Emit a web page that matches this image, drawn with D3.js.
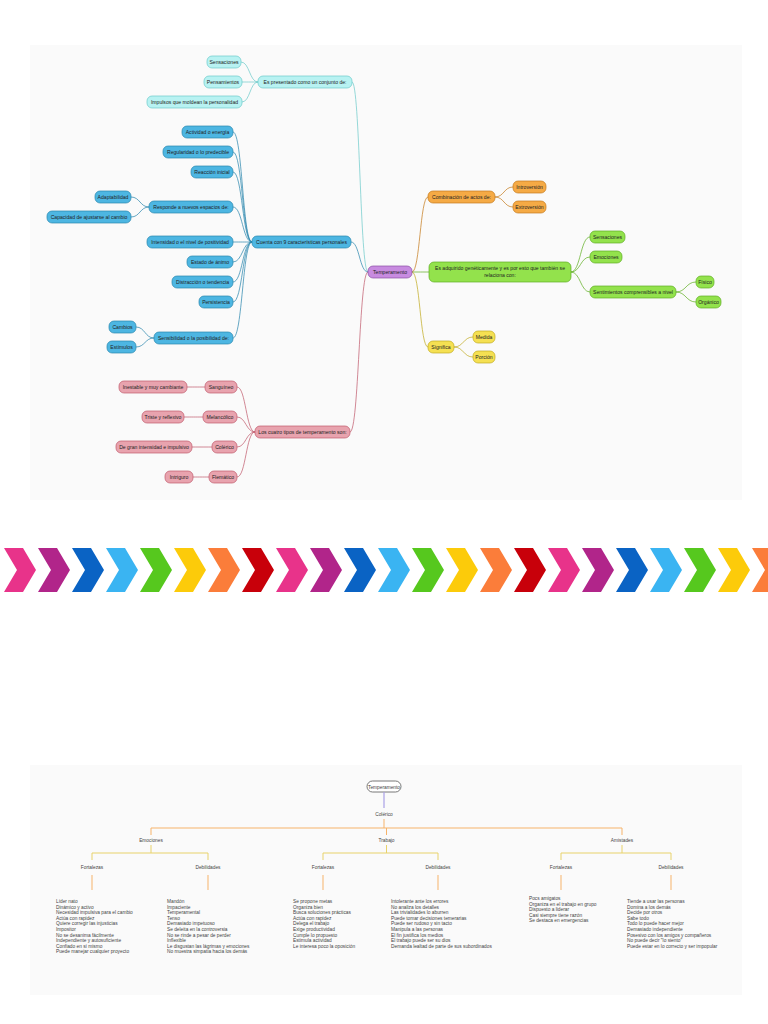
<!DOCTYPE html>
<html>
<head>
<meta charset="utf-8">
<script src="https://cdn.jsdelivr.net/npm/d3@7"></script>
<style>
  body { margin: 0; background: #fff; }
  svg { display: block; font-family: "Liberation Sans", Arial, sans-serif; }
</style>
</head>
<body>
<svg id="chart" width="768" height="1024"></svg>
<script>
// ---- top mind map: [id, label, parent, right edge x, centre y, width]
const mapNodes = [
  ["root", "Temperamento", null, 412, 272, 44],
  ["c1", "Es presentado como un conjunto de:", "root", 352, 82, 94],
  ["c1a", "Sensaciones", "c1", 241, 62, 34],
  ["c1b", "Pensamientos", "c1", 242, 82, 38],
  ["c1c", "Impulsos que moldean la personalidad", "c1", 242, 102, 95],
  ["c2", "Cuenta con 9 características personales", "root", 351, 242, 99],
  ["c2a", "Actividad o energía", "c2", 233, 132, 51],
  ["c2b", "Regularidad o lo predecible", "c2", 233, 152, 70],
  ["c2c", "Reacción inicial", "c2", 233, 172, 42],
  ["c2d", "Responde a nuevos espacios de:", "c2", 233, 207, 84],
  ["c2d1", "Adaptabilidad", "c2d", 131, 197, 36],
  ["c2d2", "Capacidad de ajustarse al cambio", "c2d", 131, 217, 84],
  ["c2e", "Intensidad o el nivel de positividad", "c2", 233, 242, 86],
  ["c2f", "Estado de ánimo", "c2", 233, 262, 46],
  ["c2g", "Distracción o tendencia", "c2", 233, 282, 61],
  ["c2h", "Persistencia", "c2", 233, 302, 34],
  ["c2i", "Sensibilidad o la posibilidad de:", "c2", 233, 338, 79],
  ["c2i1", "Cambios", "c2i", 136, 327, 27],
  ["c2i2", "Estímulos", "c2i", 136, 347, 29],
  ["c3", "Los cuatro tipos de temperamento son:", "root", 350, 432, 95],
  ["c3a", "Sanguíneo", "c3", 237, 387, 32],
  ["c3a1", "Inestable y muy cambiante", "c3a", 187, 387, 68],
  ["c3b", "Melancólico", "c3", 237, 417, 34],
  ["c3b1", "Triste y reflexivo", "c3b", 184, 417, 42],
  ["c3c", "Colérico", "c3", 237, 447, 25],
  ["c3c1", "De gran intensidad e impulsivo", "c3c", 192, 447, 76],
  ["c3d", "Flemático", "c3", 237, 477, 28],
  ["c3d1", "Intriguro", "c3d", 193, 477, 28],
  ["c4", "Combinación de actos de:", "root", 495, 197, 67],
  ["c4a", "Introversión", "c4", 546, 187, 33],
  ["c4b", "Extroversión", "c4", 546, 207, 33],
  ["c5", "Es adquirido genéticamente y es por esto que también se|relaciona con:", "root", 571, 272, 142],
  ["c5a", "Sensaciones", "c5", 625, 237, 35],
  ["c5b", "Emociones", "c5", 622, 257, 32],
  ["c5c", "Sentimientos comprensibles a nivel", "c5", 676, 292, 86],
  ["c5c1", "Físico", "c5c", 714, 282, 18],
  ["c5c2", "Orgánico", "c5c", 721, 302, 25],
  ["c6", "Significa", "root", 454, 347, 26],
  ["c6a", "Medida", "c6", 495, 337, 22],
  ["c6b", "Porción", "c6", 495, 357, 22]
];
const branchColors = {
  root: ["#c88be0", "#8a4fa3"],
  c1: ["#b8f2f2", "#6ccaca"],
  c2: ["#4db6e2", "#2a86ad"],
  c3: ["#e8a3ae", "#c05a6c"],
  c4: ["#f5aa45", "#c47a1c"],
  c5: ["#93e24c", "#5fae22"],
  c6: ["#f5e052", "#c0aa20"]
};

// ---- chevron band
const chevronColors = ["#e8338a", "#b1258a", "#0a63c4", "#3ab4f2", "#56c81e", "#fccb0a", "#fb7d3a", "#c8000a"];
const chevronCount = 23;

// ---- bottom org chart
const groups = ["Emociones", "Trabajo", "Amistades"];
const subLabels = ["Fortalezas", "Debilidades"];
const lists = [
  ["Líder nato", "Dinámico y activo", "Necesidad impulsiva para el cambio", "Actúa con rapidez", "Quiere corregir las injusticias", "Impositor", "No se desanima fácilmente", "Independiente y autosuficiente", "Confiado en sí mismo", "Puede manejar cualquier proyecto"],
  ["Mandón", "Impaciente", "Temperamental", "Tenso", "Demasiado impetuoso", "Se deleita en la controversia", "No se rinde a pesar de perder", "Inflexible", "Le disgustan las lágrimas y emociones", "No muestra simpatía hacia los demás"],
  ["Se propone metas", "Organiza bien", "Busca soluciones prácticas", "Actúa con rapidez", "Delega el trabajo", "Exige productividad", "Cumple lo propuesto", "Estimula actividad", "Le interesa poco la oposición"],
  ["Intolerante ante los errores", "No analiza los detalles", "Las trivialidades lo aburren", "Puede tomar decisiones temerarias", "Puede ser rudoso y sin tacto", "Manipula a las personas", "El fin justifica los medios", "El trabajo puede ser su dios", "Demanda lealtad de parte de sus subordinados"],
  ["Pocs amigatos", "Organiza en el trabajo en grupo", "Dispuesto a liderar", "Casi siempre tiene razón", "Se destaca en emergencias"],
  ["Tiende a usar las personas", "Domina a los demás", "Decide por otros", "Sabe todo", "Todo lo puede hacer mejor", "Demasiado independiente", "Posesivo con los amigos y compañeros", "No puede decir \"lo siento\"", "Puede estar en lo correcto y ser impopular"]
];

const svg = d3.select("#chart");

// panels
svg.append("rect").attr("x", 30).attr("y", 45).attr("width", 712).attr("height", 455).attr("fill", "#fafafa");
svg.append("rect").attr("x", 30).attr("y", 765).attr("width", 712).attr("height", 230).attr("fill", "#fafafa");

// ===== mind map =====
const byId = new Map(mapNodes.map(d => [d[0], {id: d[0], label: d[1], parent: d[2], right: d[3], y: d[4], w: d[5]}]));
const branchOf = n => {
  let cur = n;
  while (cur.parent && cur.parent !== "root") cur = byId.get(cur.parent);
  return cur.id;
};
const nodeH = n => n.label.includes("|") ? 20 : 12;
const link = d3.linkHorizontal().x(d => d[0]).y(d => d[1]);

const gLinks = svg.append("g");
for (const n of byId.values()) {
  if (!n.parent) continue;
  const p = byId.get(n.parent);
  const col = branchColors[branchOf(n)][1];
  const childLeft = n.right - n.w;
  let src, dst;
  if (childLeft >= p.right - 2) { // child to the right
    src = [p.right, p.y]; dst = [childLeft, n.y];
  } else {
    src = [p.right - p.w, p.y]; dst = [n.right, n.y];
  }
  gLinks.append("path").attr("d", link({source: src, target: dst}))
    .attr("fill", "none").attr("stroke", col).attr("stroke-width", 0.9).attr("opacity", 0.8);
}

const gNodes = svg.append("g");
for (const n of byId.values()) {
  const [fill, stroke] = branchColors[n.parent ? branchOf(n) : "root"];
  const h = nodeH(n);
  gNodes.append("rect").attr("x", n.right - n.w).attr("y", n.y - h / 2)
    .attr("width", n.w).attr("height", h).attr("rx", 5)
    .attr("fill", fill).attr("stroke", stroke).attr("stroke-width", 0.7);
  const lines = n.label.split("|");
  const t = gNodes.append("text").attr("text-anchor", "middle").attr("font-size", 5.1).attr("fill", "#222");
  lines.forEach((l, i) => {
    t.append("tspan").attr("x", n.right - n.w / 2)
      .attr("y", n.y + 1.8 + (i - (lines.length - 1) / 2) * 7).text(l);
  });
}

// ===== chevrons =====
const cx = d3.scaleLinear().domain([0, 1]).range([4, 38]);
const gChev = svg.append("g");
d3.range(chevronCount).forEach(i => {
  const x = cx(i), y0 = 548, h = 44, w = 32, d = 13;
  gChev.append("path")
    .attr("d", `M${x},${y0} L${x + w - d},${y0} L${x + w},${y0 + h / 2} L${x + w - d},${y0 + h} L${x},${y0 + h} L${x + d},${y0 + h / 2} Z`)
    .attr("fill", chevronColors[i % chevronColors.length]);
});

// ===== org chart =====
const gOrg = svg.append("g").attr("font-size", 4.8).attr("fill", "#444");
const orange = "#f6b36a";
gOrg.append("rect").attr("x", 367).attr("y", 781).attr("width", 34).attr("height", 11).attr("rx", 5.5)
  .attr("fill", "#fff").attr("stroke", "#555").attr("stroke-width", 0.8);
gOrg.append("text").attr("x", 384).attr("y", 788.5).attr("text-anchor", "middle").text("Temperamento");
gOrg.append("line").attr("x1", 384).attr("x2", 384).attr("y1", 792).attr("y2", 808).attr("stroke", "#a9a0e6").attr("stroke-width", 1.2);
gOrg.append("text").attr("x", 384).attr("y", 816).attr("text-anchor", "middle").text("Colérico");
gOrg.append("line").attr("x1", 384).attr("x2", 384).attr("y1", 819).attr("y2", 828).attr("stroke", orange);

const gx = d3.scalePoint().domain(groups).range([151, 622]);
const subX = [[92, 208], [323, 438], [561, 671]];
const listX = [[56, 167], [293, 391], [529, 627]];
gOrg.append("line").attr("x1", gx(groups[0])).attr("x2", gx(groups[2])).attr("y1", 828).attr("y2", 828).attr("stroke", orange);
groups.forEach((g, gi) => {
  const x = gx(g);
  gOrg.append("line").attr("x1", x).attr("x2", x).attr("y1", 828).attr("y2", 835).attr("stroke", orange);
  gOrg.append("text").attr("x", x).attr("y", 842).attr("text-anchor", "middle").text(g);
  gOrg.append("line").attr("x1", x).attr("x2", x).attr("y1", 845).attr("y2", 853).attr("stroke", "#e8d26a");
  gOrg.append("line").attr("x1", subX[gi][0]).attr("x2", subX[gi][1]).attr("y1", 853).attr("y2", 853).attr("stroke", "#e8d26a");
  subLabels.forEach((s, si) => {
    const sx = subX[gi][si];
    gOrg.append("line").attr("x1", sx).attr("x2", sx).attr("y1", 853).attr("y2", 860).attr("stroke", "#e8d26a");
    gOrg.append("text").attr("x", sx).attr("y", 869).attr("text-anchor", "middle").text(s);
    gOrg.append("line").attr("x1", sx).attr("x2", sx).attr("y1", 875).attr("y2", 890).attr("stroke", orange);
    const items = lists[gi * 2 + si];
    const t = gOrg.append("text");
    items.forEach((it, k) => {
      t.append("tspan").attr("x", listX[gi][si]).attr("y", (gi === 2 && si === 0 ? 900 : 903) + k * 5.6).text(it);
    });
  });
});
</script>
</body>
</html>
